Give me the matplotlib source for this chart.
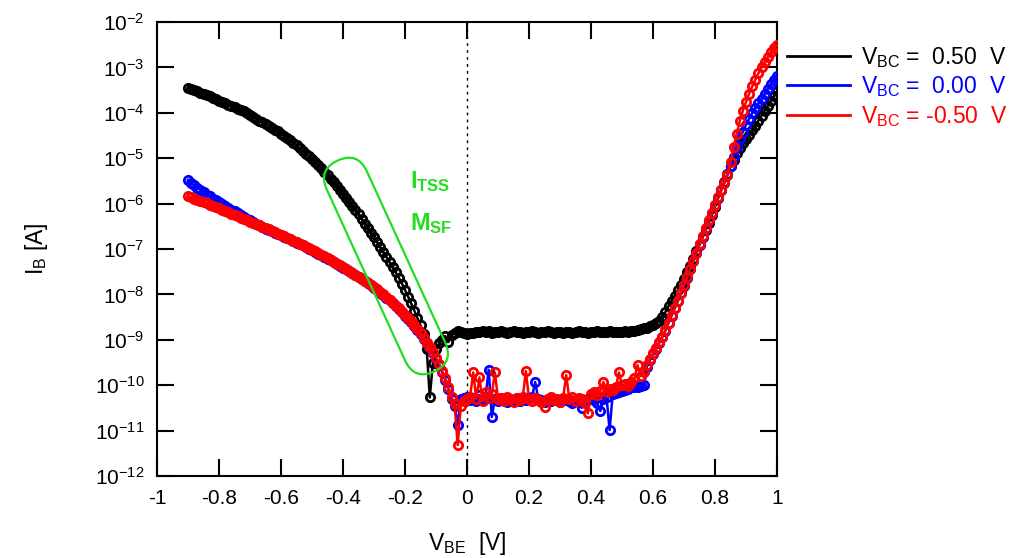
import numpy as np
import matplotlib
matplotlib.use('Agg')
import matplotlib.pyplot as plt
import matplotlib.transforms as mtransforms
from matplotlib.patches import FancyBboxPatch
from matplotlib.lines import Line2D

plt.rcParams['font.family'] = ['Liberation Sans', 'DejaVu Sans']
plt.rcParams['mathtext.fontset'] = 'custom'
plt.rcParams['mathtext.rm'] = 'Liberation Sans'
plt.rcParams['mathtext.it'] = 'Liberation Sans:italic'
plt.rcParams['mathtext.bf'] = 'Liberation Sans:bold'

# sweep of V_BE in 10 mV steps, -0.90 V ... 1.00 V
vbe = np.round(np.arange(-90, 101) * 0.01, 2)

# log10(I_B / A) for each V_BC
log_ib_pos = [
    -3.45, -3.475, -3.50, -3.53, -3.555, -3.58, -3.61, -3.64, -3.67, -3.70,
    -3.73, -3.76, -3.79, -3.82, -3.85, -3.88, -3.91, -3.94, -3.97, -4.01,
    -4.05, -4.09, -4.13, -4.17, -4.21, -4.25, -4.29, -4.33, -4.37, -4.41,
    -4.46, -4.51, -4.56, -4.61, -4.665, -4.72, -4.78, -4.84, -4.90, -4.96,
    -5.02, -5.085, -5.15, -5.22, -5.295, -5.37, -5.45, -5.53, -5.61, -5.70,
    -5.79, -5.88, -5.97, -6.06, -6.15, -6.24, -6.34, -6.44, -6.54, -6.64,
    -6.74, -6.85, -6.96, -7.07, -7.18, -7.29, -7.40, -7.515, -7.63, -7.76,
    -7.90, -8.05, -8.20, -8.36, -8.52, -8.68, -8.88, -9.20, -10.27, -9.50,
    -9.20, -9.08, -9.00, -8.92, -9.05, -8.90, -8.86, -8.80, -8.82, -8.85,
    -8.88, -8.84, -8.86, -8.82, -8.83, -8.80, -8.83, -8.81, -8.84, -8.82,
    -8.83, -8.81, -8.82, -8.84, -8.82, -8.81, -8.83, -8.82, -8.84, -8.83,
    -8.82, -8.81, -8.83, -8.84, -8.82, -8.83, -8.81, -8.82, -8.84, -8.83,
    -8.82, -8.84, -8.83, -8.82, -8.84, -8.83, -8.81, -8.83, -8.82, -8.84,
    -8.82, -8.83, -8.81, -8.82, -8.83, -8.82, -8.81, -8.83, -8.82, -8.83,
    -8.82, -8.81, -8.82, -8.81, -8.80, -8.79, -8.77, -8.75, -8.73, -8.70,
    -8.67, -8.63, -8.58, -8.50, -8.39, -8.26, -8.14, -8.03, -7.91, -7.79,
    -7.65, -7.51, -7.37, -7.21, -7.05, -6.90, -6.74, -6.58, -6.42, -6.25,
    -6.07, -5.88, -5.69, -5.52, -5.35, -5.18, -5.03, -4.89, -4.77, -4.67,
    -4.58, -4.48, -4.38, -4.28, -4.17, -4.06, -3.95, -3.84, -3.73, -3.63,
    -3.53,
]

log_ib_zero = [
    -5.48, -5.54, -5.60, -5.65, -5.70, -5.75, -5.80, -5.84, -5.89, -5.93,
    -5.97, -6.01, -6.05, -6.09, -6.13, -6.17, -6.21, -6.25, -6.29, -6.33,
    -6.37, -6.40, -6.44, -6.47, -6.51, -6.55, -6.58, -6.61, -6.64, -6.67,
    -6.70, -6.73, -6.76, -6.79, -6.82, -6.86, -6.89, -6.92, -6.96, -6.99,
    -7.03, -7.06, -7.10, -7.14, -7.18, -7.21, -7.25, -7.29, -7.33, -7.37,
    -7.41, -7.45, -7.49, -7.53, -7.57, -7.62, -7.66, -7.71, -7.75, -7.80,
    -7.85, -7.90, -7.96, -8.01, -8.07, -8.13, -8.19, -8.25, -8.32, -8.39,
    -8.47, -8.54, -8.61, -8.69, -8.78, -8.88, -8.98, -9.08, -9.19, -9.30,
    -9.42, -9.56, -9.72, -9.88, -10.08, -10.30, -10.45, -10.88, -10.30, -10.28,
    -10.25, -10.32, -10.28, -10.35, -10.22, -10.30, -10.25, -9.66, -10.70, -10.30,
    -10.35, -10.28, -10.32, -10.38, -10.30, -10.33, -10.28, -10.35, -10.30, -10.32,
    -10.28, -10.25, -9.93, -10.30, -10.33, -10.38, -10.30, -10.35, -10.30, -10.32,
    -10.38, -10.32, -10.30, -10.35, -10.40, -10.33, -10.38, -10.50, -10.35, -10.30,
    -10.25, -10.32, -10.40, -10.57, -10.30, -10.25, -10.99, -10.20, -10.18, -10.15,
    -10.12, -10.10, -10.08, -10.05, -10.05, -10.03, -10.02, -10.00, -9.60, -9.45,
    -9.32, -9.20, -9.07, -8.94, -8.80, -8.63, -8.47, -8.31, -8.15, -7.98,
    -7.81, -7.63, -7.45, -7.27, -7.09, -6.91, -6.73, -6.55, -6.38, -6.21,
    -6.04, -5.87, -5.71, -5.55, -5.38, -5.18, -4.97, -4.76, -4.58, -4.42,
    -4.27, -4.13, -4.00, -3.89, -3.79, -3.69, -3.58, -3.47, -3.37, -3.27,
    -3.18,
]

log_ib_neg = [
    -5.84, -5.865, -5.89, -5.915, -5.94, -5.965, -5.99, -6.02, -6.05, -6.08,
    -6.105, -6.13, -6.16, -6.19, -6.22, -6.25, -6.28, -6.31, -6.34, -6.37,
    -6.395, -6.42, -6.45, -6.48, -6.51, -6.54, -6.57, -6.60, -6.63, -6.66,
    -6.69, -6.72, -6.75, -6.78, -6.815, -6.85, -6.88, -6.915, -6.95, -6.985,
    -7.02, -7.055, -7.09, -7.13, -7.165, -7.20, -7.24, -7.28, -7.32, -7.36,
    -7.40, -7.44, -7.48, -7.52, -7.565, -7.61, -7.655, -7.70, -7.745, -7.79,
    -7.84, -7.89, -7.945, -8.00, -8.06, -8.12, -8.18, -8.245, -8.31, -8.38,
    -8.45, -8.52, -8.595, -8.675, -8.765, -8.86, -8.96, -9.06, -9.16, -9.27,
    -9.39, -9.53, -9.68, -9.85, -10.05, -10.25, -10.42, -11.32, -10.45, -10.35,
    -10.30, -10.25, -9.72, -10.30, -9.83, -10.35, -10.15, -10.28, -10.20, -9.72,
    -10.30, -10.28, -10.35, -10.25, -10.30, -10.38, -10.28, -10.32, -10.25, -9.69,
    -10.30, -10.35, -10.28, -10.32, -10.38, -10.47, -10.30, -10.25, -10.33, -10.30,
    -10.36, -10.28, -9.78, -10.30, -10.25, -10.35, -10.28, -10.30, -10.40, -10.62,
    -10.20, -10.15, -10.22, -10.12, -9.93, -10.15, -10.08, -10.10, -10.05, -9.72,
    -10.00, -9.98, -10.02, -9.92, -9.85, -9.56, -9.80, -9.70, -9.55, -9.42,
    -9.30, -9.18, -9.05, -8.93, -8.78, -8.62, -8.46, -8.30, -8.14, -7.97,
    -7.80, -7.62, -7.44, -7.26, -7.08, -6.90, -6.72, -6.54, -6.37, -6.20,
    -6.03, -5.86, -5.70, -5.55, -5.36, -5.08, -4.76, -4.46, -4.18, -3.95,
    -3.76, -3.58, -3.42, -3.27, -3.13, -3.00, -2.88, -2.77, -2.67, -2.58,
    -2.50,
]

series_labels = [r'$\mathregular{V_{BC}}$ =  0.50  V',
                 r'$\mathregular{V_{BC}}$ =  0.00  V',
                 r'$\mathregular{V_{BC}}$ = -0.50  V']
series_colors = ['black', '#0000ff', '#ff0000']

xticks = [-1, -0.8, -0.6, -0.4, -0.2, 0, 0.2, 0.4, 0.6, 0.8, 1]
xtick_labels = ['-1', '-0.8', '-0.6', '-0.4', '-0.2', '0', '0.2', '0.4', '0.6', '0.8', '1']
yexp = [-12, -11, -10, -9, -8, -7, -6, -5, -4, -3, -2]
ytick_labels = [r'$\mathregular{10^{%d}}$' % e for e in yexp]

green = '#22dd22'

fig = plt.figure(figsize=(10.28, 5.58), dpi=100)
ax = fig.add_axes([157 / 1028, 82 / 558, 620 / 1028, 454 / 558])

ax.axvline(0, color='black', lw=1.0, ls=(0, (2, 3)), zorder=1)

for logs, col in zip([log_ib_pos, log_ib_zero, log_ib_neg], series_colors):
    ax.plot(vbe, 10.0 ** np.array(logs), '-o', color=col, lw=1.8,
            ms=6.0, mfc='none', mew=2.0, zorder=3)

ax.set_yscale('log')
ax.set_xlim(-1, 1)
ax.set_ylim(1e-12, 1e-2)
ax.set_xticks(xticks)
ax.set_xticklabels(xtick_labels)
ax.set_yticks([10.0 ** e for e in yexp])
ax.set_yticklabels(ytick_labels)
ax.minorticks_off()
ax.tick_params(direction='in', length=12, width=1.5, top=True, right=True,
               labelsize=15, pad=9)
for sp in ax.spines.values():
    sp.set_linewidth(1.5)

ax.set_xlabel(r'$\mathregular{V_{BE}}$  [V]', fontsize=16.5, labelpad=16)
ax.set_ylabel(r'$\mathregular{I_B}$ [A]', fontsize=16.5, labelpad=32)

# rounded frame around the steep part of the V_BC = 0.5 V curve
frame = FancyBboxPatch((-1.16, -0.22), 2.32, 0.44,
                       boxstyle='round,pad=0,rounding_size=0.22',
                       fill=False, ec=green, lw=1.6,
                       transform=mtransforms.Affine2D().rotate_deg(-65.4)
                       .translate(3.86, 2.92) + fig.dpi_scale_trans)
fig.add_artist(frame)

ax.text(0.408, 0.634, r'$\mathbf{I_{TSS}}$', color=green, fontsize=17,
        transform=ax.transAxes, va='baseline')
ax.text(0.408, 0.542, r'$\mathbf{M_{SF}}$', color=green, fontsize=17,
        transform=ax.transAxes, va='baseline')

handles = [Line2D([], [], color=c, lw=2) for c in series_colors]
fig.legend(handles, series_labels, loc='upper left',
           bbox_to_anchor=(787 / 1028, 1 - 45 / 558), frameon=False,
           fontsize=16.5, labelcolor='linecolor', handlelength=2.75,
           handletextpad=0.5, labelspacing=0.2, borderpad=0,
           borderaxespad=0)

fig.savefig('out.png', dpi=100)
